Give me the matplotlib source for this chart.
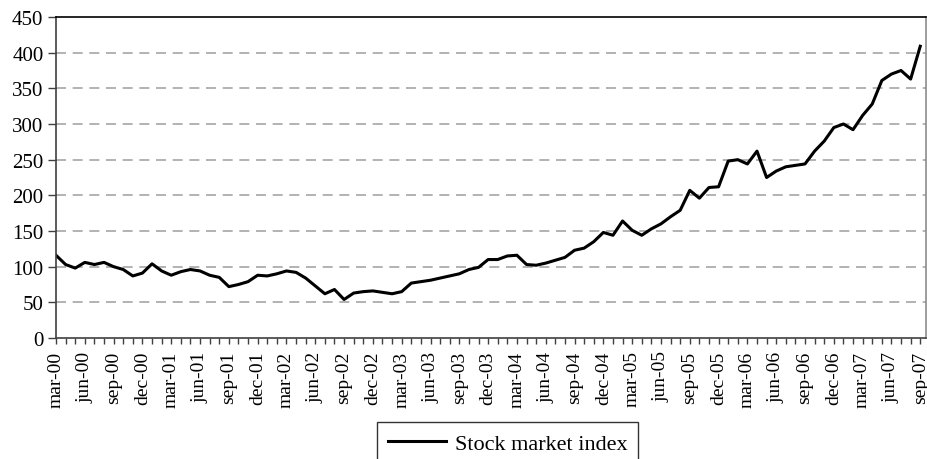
import matplotlib
matplotlib.use('Agg')
import matplotlib.pyplot as plt
import numpy as np

plt.rcParams['font.family'] = ['Liberation Serif', 'DejaVu Serif']

# monthly index, mar-00 .. sep-07
index_values = [116, 103, 98, 106, 103, 106, 100, 96, 87, 91,
                104, 94, 88, 93, 96, 94, 88, 85, 72, 75, 79, 88,
                87, 90, 94, 92, 84, 73, 62, 68, 54, 63, 65, 66,
                64, 62, 65, 77, 79, 81, 84, 87, 90, 96, 99, 110,
                110, 115, 116, 103, 102, 105, 109, 113, 123, 126, 135, 148,
                144, 164, 151, 144, 153, 160, 170, 179, 207, 196, 211, 212,
                248, 250, 244, 262, 225, 234, 240, 242, 244, 262, 276, 295,
                300, 292, 312, 328, 361, 370, 375, 363, 409]
tick_labels = ['mar-00', 'jun-00', 'sep-00', 'dec-00',
               'mar-01', 'jun-01', 'sep-01', 'dec-01',
               'mar-02', 'jun-02', 'sep-02', 'dec-02',
               'mar-03', 'jun-03', 'sep-03', 'dec-03',
               'mar-04', 'jun-04', 'sep-04', 'dec-04',
               'mar-05', 'jun-05', 'sep-05', 'dec-05',
               'mar-06', 'jun-06', 'sep-06', 'dec-06',
               'mar-07', 'jun-07', 'sep-07']
series_name = 'Stock market index'

W, H = 927, 460
fig = plt.figure(figsize=(W / 100, H / 100), dpi=100)
ax = fig.add_axes([56 / W, 1 - 339 / H, 870 / W, 321 / H])

x = np.arange(len(index_values))
ax.plot(x, index_values, color='black', linewidth=2.2, label=series_name)

ax.set_xlim(0, 90.6)
ax.set_ylim(0, 450)
ax.set_yticks(np.arange(0, 451, 50))
ax.set_xticks(np.arange(0, len(index_values), 3))
ax.set_xticks(x, minor=True)
ax.set_xticklabels(tick_labels, rotation=90)

for yv in range(50, 450, 50):
    ax.axhline(yv, color='#a6a6a6', linewidth=1.2, linestyle=(0, (6, 4)), zorder=0)

ax.tick_params(axis='y', direction='out', length=6, width=1, color='#404040',
               labelsize=15, pad=3)
ax.tick_params(axis='x', which='both', direction='out', length=4, width=1,
               color='#404040', labelsize=14, pad=5)

ax.spines['left'].set_color('#404040')
ax.spines['bottom'].set_color('#404040')
ax.spines['top'].set_color('black')
ax.spines['right'].set_color('#8c8c8c')
for s in ax.spines.values():
    s.set_linewidth(1.2)

leg = ax.legend(loc='upper center', bbox_to_anchor=(507.5 / W, 1 - 423 / H),
                bbox_transform=fig.transFigure, fontsize=16, frameon=True,
                fancybox=False, edgecolor='black', handlelength=2.6,
                borderpad=0.5, handletextpad=0.4, borderaxespad=0)
leg.get_frame().set_linewidth(1.0)

fig.savefig('out.png', dpi=100)
